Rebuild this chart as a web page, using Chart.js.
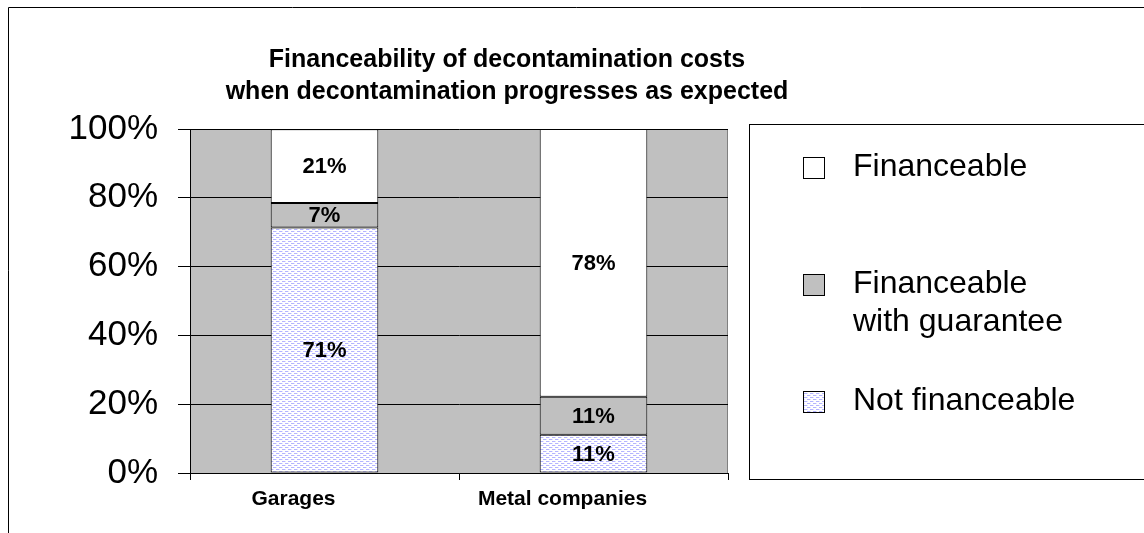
<!DOCTYPE html>
<html>
<head>
<meta charset="utf-8">
<script src="https://cdn.jsdelivr.net/npm/chart.js@4.4.0/dist/chart.umd.min.js"></script>
<style>
html,body{margin:0;padding:0;background:#fff;overflow:hidden}
canvas{display:block}
</style>
</head>
<body>
<canvas id="c" width="1144" height="533"></canvas>
<script>
// ---- data ----
const categories = ['Garages', 'Metal companies'];
const seriesNames = ['Not financeable', 'Financeable with guarantee', 'Financeable'];
const notFinanceable = [71.4, 11.1];
const withGuarantee = [7.1, 11.1];
const financeable = [21.4, 77.8];
const yTicks = [0, 20, 40, 60, 80, 100];
const titleLines = ['Financeability of decontamination costs', 'when decontamination progresses as expected'];

const FONT = "'Liberation Sans', Arial, sans-serif";
Chart.defaults.font.family = FONT;
Chart.defaults.color = '#000';

function makePattern() {
  const c = document.createElement('canvas');
  c.width = 6; c.height = 4;
  const g = c.getContext('2d');
  g.fillStyle = '#ffffff'; g.fillRect(0, 0, 6, 4);
  g.fillStyle = '#b4b4ff';
  g.fillRect(0, 1, 3, 1);
  g.fillRect(3, 3, 3, 1);
  g.fillStyle = '#e2e2ff';
  g.fillRect(3, 1, 1, 1);
  g.fillRect(0, 3, 1, 1);
  return g.createPattern(c, 'repeat');
}
const patternFill = makePattern();
const colors = [patternFill, '#c0c0c0', '#ffffff'];

const backdrop = {
  id: 'backdrop',
  beforeDraw(chart) {
    const {ctx, chartArea: a} = chart;
    ctx.save();
    ctx.fillStyle = '#c0c0c0';
    ctx.fillRect(a.left, a.top, a.right - a.left, a.bottom - a.top);
    ctx.strokeStyle = '#000';
    ctx.lineWidth = 1;
    ctx.beginPath();
    ctx.moveTo(8.5, chart.height);
    ctx.lineTo(8.5, 7.5);
    ctx.lineTo(chart.width, 7.5);
    ctx.stroke();
    ctx.strokeStyle = '#808080';
    ctx.beginPath();
    ctx.moveTo(a.right - 0.5, a.top);
    ctx.lineTo(a.right - 0.5, a.bottom);
    ctx.stroke();
    ctx.restore();
  }
};

const valueLabels = {
  id: 'valueLabels',
  afterDatasetsDraw(chart) {
    const ctx = chart.ctx;
    ctx.save();
    ctx.font = 'bold 22px ' + FONT;
    ctx.fillStyle = '#000';
    ctx.textAlign = 'center';
    ctx.textBaseline = 'middle';
    chart.data.datasets.forEach((ds, i) => {
      const meta = chart.getDatasetMeta(i);
      meta.data.forEach((bar, j) => {
        const p = bar.getProps(['x', 'y', 'base'], true);
        ctx.fillText(Math.round(ds.data[j]) + '%', p.x, (p.y + p.base) / 2 + 1);
      });
    });
    ctx.restore();
  }
};

function wrapText(ctx, text, maxW) {
  const words = text.split(' ');
  const lines = [];
  let cur = '';
  words.forEach(w => {
    const t = cur ? cur + ' ' + w : w;
    if (cur && ctx.measureText(t).width > maxW) { lines.push(cur); cur = w; }
    else cur = t;
  });
  if (cur) lines.push(cur);
  return lines;
}

const boxLegend = {
  id: 'boxLegend',
  beforeInit(chart) {
    const box = {
      position: 'right',
      weight: 0,
      fullSize: false,
      options: {},
      left: 0, top: 0, right: 0, bottom: 0, width: 0, height: 0,
      isHorizontal() { return false; },
      update(maxW, maxH) { this.width = 286; this.height = maxH; },
      draw() {
        const ctx = chart.ctx;
        const a = chart.chartArea;
        const L = this.left + 21, T = a.top - 5, B = a.bottom + 6;
        ctx.save();
        ctx.strokeStyle = '#000';
        ctx.lineWidth = 1;
        ctx.strokeRect(L + 0.5, T + 0.5, chart.width, B - T);
        ctx.font = '32px ' + FONT;
        ctx.textAlign = 'left';
        ctx.textBaseline = 'middle';
        const dsets = chart.data.datasets.slice().reverse();
        dsets.forEach((ds, k) => {
          const rowY = T + 43 + k * 117;
          ctx.fillStyle = ds.backgroundColor;
          ctx.fillRect(L + 54, rowY - 10, 22, 22);
          ctx.strokeStyle = '#000';
          ctx.strokeRect(L + 54.5, rowY - 9.5, 21, 21);
          ctx.fillStyle = '#000';
          const lines = wrapText(ctx, ds.label, 230);
          lines.forEach((ln, m) => ctx.fillText(ln, L + 104, rowY + m * 38));
        });
        ctx.restore();
      }
    };
    Chart.layouts.addBox(chart, box);
  }
};

new Chart(document.getElementById('c'), {
  type: 'bar',
  data: {
    labels: categories,
    datasets: [
      {label: seriesNames[0], data: notFinanceable, backgroundColor: colors[0]},
      {label: seriesNames[1], data: withGuarantee, backgroundColor: colors[1]},
      {label: seriesNames[2], data: financeable, backgroundColor: colors[2]}
    ].map(d => Object.assign(d, {
      borderColor: '#000', borderWidth: 1, borderSkipped: false,
      barPercentage: 0.4, categoryPercentage: 1.0
    }))
  },
  options: {
    responsive: false,
    animation: false,
    devicePixelRatio: 1,
    layout: {padding: {left: 0, right: 130, top: 0, bottom: 20}},
    plugins: {
      legend: {display: false},
      tooltip: {enabled: false},
      title: {
        display: true,
        text: titleLines,
        color: '#000',
        font: {family: FONT, size: 25, weight: 'bold', lineHeight: '32px'},
        padding: {top: 44, bottom: 21}
      }
    },
    scales: {
      x: {
        stacked: true,
        offset: true,
        grid: {display: true, drawOnChartArea: false, drawTicks: true, tickLength: 7, color: '#000', offset: true},
        border: {display: true, color: '#000', width: 1},
        ticks: {font: {family: FONT, size: 21, weight: 'bold'}, color: '#000', padding: 7, labelOffset: -31, maxRotation: 0},
        afterFit(s) { s.height = 40; }
      },
      y: {
        stacked: true,
        min: 0, max: 100,
        grid: {color: '#000', lineWidth: 1, tickLength: 12, drawTicks: true},
        border: {display: true, color: '#000', width: 1},
        ticks: {font: {family: FONT, size: 35}, color: '#000', padding: 20, callback: v => v + '%'},
        afterBuildTicks(s) { s.ticks = yTicks.map(v => ({value: v})); },
        afterFit(s) { s.width = 190; }
      }
    }
  },
  plugins: [backdrop, valueLabels, boxLegend]
});
</script>
</body>
</html>
